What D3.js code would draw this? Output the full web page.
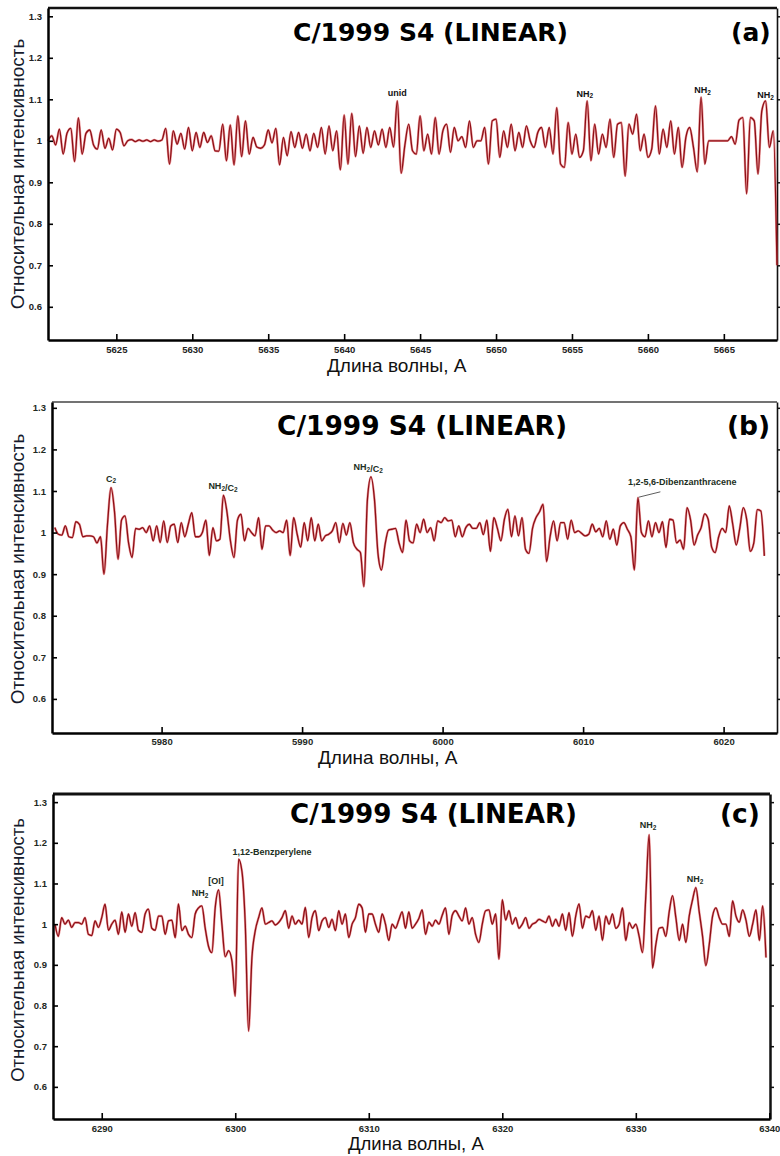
<!DOCTYPE html>
<html>
<head>
<meta charset="utf-8">
<script src="https://cdn.jsdelivr.net/npm/d3@7"></script>
<style>
  body { margin: 0; background: #fff; }
  svg { display: block; }
</style>
</head>
<body>
<div class="chart"></div>
<script>
var svgWidth = 780;
var svgHeight = 1156;

var titleText = "C/1999 S4 (LINEAR)";
var xLabelText = "Длина волны, А";
var yLabelText = "Относительная интенсивность";

// shared y axis
var yTicks = [0.6, 0.7, 0.8, 0.9, 1, 1.1, 1.2, 1.3];
var yTickLabels = ["0.6", "0.7", "0.8", "0.9", "1", "1.1", "1.2", "1.3"];

// ---- panel (a) ----
var xTicksA = [5625, 5630, 5635, 5640, 5645, 5650, 5655, 5660, 5665];
var waveStartA = 5620.5, waveStepA = 0.25;
var fluxA = [
  1.0,1.012,0.99,1.028,0.968,1.018,1.03,0.95,1.055,0.968,
  1.018,1.026,0.99,0.98,1.026,0.982,1.006,0.978,1.028,1.02,
  0.988,1.0,1.003,0.998,1.002,0.999,1.002,0.998,1.002,0.999,
  1.002,1.03,0.944,1.024,0.992,1.018,0.98,1.032,0.976,1.02,
  0.984,1.02,0.996,1.012,0.976,0.975,1.04,0.952,1.038,0.942,
  1.06,0.962,1.048,0.968,1.008,0.985,0.982,0.99,1.026,0.995,
  1.03,0.942,1.008,0.964,1.022,0.984,1.02,0.982,1.016,0.976,
  1.018,0.984,1.032,0.968,1.036,0.976,1.024,0.93,1.062,0.944,
  1.066,0.962,1.036,0.97,1.032,0.984,1.024,0.99,1.028,0.984,
  1.032,0.985,1.096,0.922,0.99,1.04,0.976,0.968,1.06,0.976,
  1.016,0.968,1.056,0.968,1.024,1.04,0.972,1.032,1.0,1.01,
  0.984,1.048,0.984,1.0,1.0,1.032,0.944,1.048,1.052,0.96,
  1.024,0.984,1.04,0.976,1.02,0.984,1.036,1.0,0.984,1.02,
  1.032,0.984,1.032,0.968,1.08,0.944,0.936,1.044,0.968,1.016,
  0.96,0.976,1.096,0.952,1.04,0.968,1.016,0.984,1.052,0.96,
  1.04,1.044,0.915,1.04,1.016,1.064,0.976,1.016,0.96,0.98,
  1.084,0.968,1.028,0.984,1.048,0.968,1.032,0.936,1.008,1.032,
  0.984,0.925,1.105,0.944,1.0,1.0,1.0,1.0,1.0,1.0,
  1.01,0.992,1.05,1.056,0.872,1.056,1.048,0.92,1.072,1.096,
  0.984,1.024,0.70
];
var labelTextA = ["unid", "NH_2", "NH_2", "NH_2"];
var labelWaveA = [5643.5, 5655.85, 5663.6, 5667.75];
var labelLevelA = [1.108, 1.106, 1.115, 1.103];

// ---- panel (b) ----
var xTicksB = [5980, 5990, 6000, 6010, 6020];
var waveStartB = 5972.4, waveStepB = 0.25;
var fluxB = [
  1.012,0.996,0.994,1.016,0.99,0.988,1.026,1.02,0.99,0.992,
  0.992,0.99,0.975,0.99,0.90,1.02,1.108,1.05,0.936,1.03,
  1.04,0.975,0.94,1.01,1.008,1.012,1.0,1.016,0.98,1.016,
  0.976,1.028,0.976,1.016,1.02,0.976,1.024,0.99,1.02,1.048,
  0.99,0.99,1.0,1.03,0.945,1.012,0.98,0.984,1.09,1.05,
  0.98,0.94,1.03,1.044,0.98,1.01,1.0,0.992,1.036,0.96,
  1.016,1.016,1.006,1.0,1.004,1.0,1.03,0.945,1.036,0.996,
  0.965,1.024,0.98,1.036,0.98,1.02,0.98,0.992,0.996,1.004,
  1.024,0.976,1.022,0.994,1.024,0.976,0.96,0.952,0.87,1.08,
  1.134,1.08,0.95,0.91,0.97,1.006,1.008,1.01,0.975,0.952,
  1.03,0.98,0.975,1.02,1.0,1.032,1.0,1.012,0.98,1.028,
  1.024,1.036,1.028,1.03,0.99,1.016,0.99,1.012,1.02,1.01,
  1.01,1.024,0.995,1.03,0.955,1.036,1.01,0.98,1.032,1.056,
  0.99,1.04,0.992,1.036,0.96,0.95,1.01,1.036,1.05,1.068,
  0.93,0.99,1.028,0.98,1.024,1.024,0.984,1.03,1.0,1.004,
  0.998,0.992,0.996,1.02,1.002,1.01,0.99,1.028,0.984,1.008,
  0.97,1.016,1.024,1.008,0.99,0.91,1.084,1.0,0.99,1.028,
  0.99,1.024,1.0,1.026,0.964,1.032,1.03,0.975,0.982,0.96,
  1.06,1.03,0.97,0.994,1.012,1.045,1.032,0.965,0.952,0.99,
  1.01,1.0,1.064,1.02,0.97,1.01,1.06,1.03,0.955,0.975,
  1.055,1.052,0.944
];
var labelTextB = ["C_2", "NH_2/C_2", "NH_2/C_2", "1,2-5,6-Dibenzanthracene"];
var labelWaveB = [5976.4, 5984.37, 5994.7, 6017.05];
var labelLevelB = [1.122, 1.104, 1.15, 1.114];
var leaderWaveB = [6013.95, 6015.5];
var leaderLevelB = [1.085, 1.098];

// ---- panel (c) ----
var xTicksC = [6290, 6300, 6310, 6320, 6330, 6340];
var waveStartC = 6286.5, waveStepC = 0.25;
var fluxC = [
  1.0,0.97,1.016,1.0,1.01,0.992,1.004,1.004,1.0,1.016,
  0.975,0.972,1.008,0.992,1.016,1.049,0.985,1.0,1.01,0.975,
  1.03,0.98,1.025,0.995,1.028,0.985,0.98,1.025,1.037,0.99,
  0.985,1.02,1.02,0.975,1.008,1.01,0.967,1.05,0.984,0.995,
  0.975,0.967,1.025,1.04,1.045,0.99,0.945,0.93,1.041,1.084,
  1.0,0.92,0.935,0.91,0.823,1.16,1.13,1.0,0.737,0.918,
  0.984,1.016,1.04,1.0,1.004,1.008,0.998,1.004,1.016,1.033,
  0.99,1.02,1.0,1.01,1.0,1.041,0.967,1.016,1.033,0.984,
  1.008,1.016,0.992,1.012,0.984,1.033,1.0,1.025,0.967,1.0,
  1.016,1.049,1.04,0.98,1.025,1.025,1.0,0.98,1.025,1.0,
  0.96,1.0,0.99,1.01,1.03,0.99,1.03,0.99,1.0,1.014,
  1.035,0.975,1.005,0.995,1.01,1.0,1.022,1.04,0.975,1.022,
  1.033,1.02,1.008,1.04,1.0,1.016,0.975,0.955,1.0,1.033,
  1.035,1.0,1.025,0.914,1.06,1.01,1.033,1.0,1.016,0.99,
  1.0,1.016,0.99,1.0,1.004,1.012,1.008,1.004,1.02,0.995,
  1.012,0.995,1.025,0.985,1.028,0.97,1.02,1.05,0.99,1.02,
  1.016,1.033,0.985,1.02,0.96,1.02,1.0,1.025,0.99,1.0,
  1.04,0.96,1.004,0.99,1.0,0.97,0.93,1.07,1.22,0.892,
  0.95,0.99,0.992,0.97,1.03,1.07,1.016,0.96,1.0,0.955,
  1.02,1.06,1.09,1.03,0.97,0.898,0.95,1.02,1.04,1.016,
  1.0,1.0,0.97,1.057,1.02,1.005,1.035,1.01,0.97,1.0,
  1.035,0.96,1.045,0.918
];
var labelTextC = ["NH_2", "[OI]", "1,12-Benzperylene", "NH_2", "NH_2"];
var labelWaveC = [6297.36, 6298.56, 6302.75, 6330.91, 6334.43];
var labelLevelC = [1.069, 1.098, 1.17, 1.236, 1.103];

var svg = d3.select(".chart")
  .append("svg")
  .attr("width", svgWidth)
  .attr("height", svgHeight);

function toPoints(start, step, flux) {
  return flux.map((v, i) => ({ w: start + i * step, v: v }));
}

// label text: "_2" becomes a subscript 2
function writeLabel(sel, str) {
  var parts = str.split(/_(\d)/);
  parts.forEach(function(p, i) {
    if (p === "") return;
    if (i % 2 === 1) {
      sel.append("tspan").attr("font-size", "0.72em").attr("dy", "1.5").text(p);
      sel.append("tspan").attr("dy", "-1.5").text("");
    } else {
      sel.append("tspan").text(p);
    }
  });
}

function drawPanel(p) {
  var g = svg.append("g");

  var x = d3.scaleLinear().domain(p.xDomain).range([p.left, p.right]);
  var y = d3.scaleLinear().domain(p.yDomain).range([p.bottom, p.top]);

  // frame top
  g.append("line")
    .attr("x1", p.left).attr("x2", p.right)
    .attr("y1", p.top).attr("y2", p.top)
    .attr("stroke", p.topColor).attr("stroke-width", p.topWidth);

  // right axis (ticks outward, no labels)
  var rightAxis = g.append("g")
    .attr("transform", `translate(${p.right},0)`)
    .call(d3.axisRight(y).tickValues(yTicks).tickSize(4).tickSizeOuter(0).tickFormat(""));
  rightAxis.select(".domain").attr("stroke", "#111").attr("stroke-width", p.rightWidth);
  rightAxis.selectAll(".tick line").attr("stroke", "#111").attr("stroke-width", 1.5);

  // spectrum
  var line = d3.line().curve(d3.curveMonotoneX).x(d => x(d.w)).y(d => y(d.v));
  g.append("path")
    .datum(p.points)
    .attr("fill", "none")
    .attr("stroke", "#e0484c")
    .attr("stroke-opacity", 0.55)
    .attr("stroke-width", 2.4)
    .attr("stroke-linejoin", "round")
    .attr("d", line);
  g.append("path")
    .datum(p.points)
    .attr("fill", "none")
    .attr("stroke", "#8c0f16")
    .attr("stroke-width", 1.3)
    .attr("stroke-linejoin", "round")
    .attr("d", line);

  // left axis
  var leftAxis = g.append("g")
    .attr("transform", `translate(${p.left},0)`)
    .call(d3.axisLeft(y).tickValues(yTicks)
      .tickFormat(d => yTickLabels[yTicks.indexOf(d)])
      .tickSize(-5).tickSizeOuter(0).tickPadding(6));
  leftAxis.select(".domain").attr("stroke", "#000").attr("stroke-width", 2.5);
  leftAxis.selectAll(".tick line").attr("stroke", "#000").attr("stroke-width", 1.6);
  leftAxis.selectAll("text")
    .attr("font-family", "Liberation Sans, Arial, sans-serif")
    .attr("font-weight", "bold").attr("font-size", 9.5).attr("fill", p.tickColor);

  // bottom axis
  var bottomAxis = g.append("g")
    .attr("transform", `translate(0,${p.bottom})`)
    .call(d3.axisBottom(x).tickValues(p.xTicks).tickFormat(d3.format("d"))
      .tickSize(-6).tickSizeOuter(0).tickPadding(p.xPad));
  bottomAxis.select(".domain").attr("stroke", "#000").attr("stroke-width", 2.5);
  bottomAxis.selectAll(".tick line").attr("stroke", "#000").attr("stroke-width", 1.6);
  bottomAxis.selectAll("text")
    .attr("font-family", "Liberation Sans, Arial, sans-serif")
    .attr("font-weight", "bold").attr("font-size", 9.5).attr("fill", p.tickColor);

  // title and panel letter
  g.append("text")
    .attr("x", p.titleX).attr("y", p.titleY)
    .attr("font-family", "DejaVu Sans, sans-serif")
    .attr("font-weight", "bold").attr("font-size", p.titleSize)
    .attr("textLength", p.titleLen).attr("lengthAdjust", "spacingAndGlyphs")
    .attr("fill", "#000")
    .text(titleText);
  g.append("text")
    .attr("x", p.letterX).attr("y", p.titleY)
    .attr("font-family", "DejaVu Sans, sans-serif")
    .attr("font-weight", "bold").attr("font-size", p.titleSize)
    .attr("fill", "#000")
    .text(p.letter);

  // line identifications
  p.labels.forEach(function(txt, i) {
    var t = g.append("text")
      .attr("x", x(p.labelWave[i])).attr("y", y(p.labelLevel[i]))
      .attr("text-anchor", "middle")
      .attr("font-family", "Liberation Sans, Arial, sans-serif")
      .attr("font-weight", "bold").attr("font-size", p.labelSize)
      .attr("fill", p.labelColor);
    writeLabel(t, txt);
  });
  if (p.leaderWave) {
    g.append("line")
      .attr("x1", x(p.leaderWave[0])).attr("y1", y(p.leaderLevel[0]))
      .attr("x2", x(p.leaderWave[1])).attr("y2", y(p.leaderLevel[1]))
      .attr("stroke", "#333").attr("stroke-width", 0.8);
  }

  // axis titles
  g.append("text")
    .attr("transform", `translate(24, ${p.yLabelY}) rotate(-90)`)
    .attr("text-anchor", "middle")
    .attr("font-family", "Liberation Sans, Arial, sans-serif")
    .attr("font-size", p.axisFont)
    .attr("fill", "#151a2c")
    .text(yLabelText);
  g.append("text")
    .attr("x", p.xLabelX).attr("y", p.xLabelY)
    .attr("font-family", "Liberation Sans, Arial, sans-serif")
    .attr("font-size", p.axisFont)
    .attr("fill", "#111")
    .text(xLabelText);
}

drawPanel({
  left: 48, right: 777, top: 8, bottom: 340,
  xDomain: [5620.5, 5668.5], yDomain: [0.52, 1.32],
  xTicks: xTicksA, xPad: 6,
  points: toPoints(waveStartA, waveStepA, fluxA),
  topWidth: 2.5, topColor: "#111", rightWidth: 1.6, tickColor: "#222",
  titleX: 293, titleY: 41, titleSize: 25, titleLen: 275, letter: "(a)", letterX: 731,
  labels: labelTextA, labelWave: labelWaveA, labelLevel: labelLevelA,
  labelSize: 9, labelColor: "#111",
  yLabelY: 174, xLabelX: 327, xLabelY: 372, axisFont: 19
});

drawPanel({
  left: 52, right: 777, top: 402, bottom: 733,
  xDomain: [5972.2, 6023.8], yDomain: [0.518, 1.314],
  xTicks: xTicksB, xPad: 5,
  points: toPoints(waveStartB, waveStepB, fluxB),
  topWidth: 1.6, topColor: "#444", rightWidth: 1.6, tickColor: "#1f2a1f",
  titleX: 277, titleY: 435, titleSize: 26.5, titleLen: 290, letter: "(b)", letterX: 727,
  labels: labelTextB, labelWave: labelWaveB, labelLevel: labelLevelB,
  labelSize: 9, labelColor: "#1c2e22",
  leaderWave: leaderWaveB, leaderLevel: leaderLevelB,
  yLabelY: 569, xLabelX: 318, xLabelY: 764, axisFont: 19
});

drawPanel({
  left: 53, right: 770, top: 794, bottom: 1119,
  xDomain: [6286.35, 6340.05], yDomain: [0.521, 1.32],
  xTicks: xTicksC, xPad: 6,
  points: toPoints(waveStartC, waveStepC, fluxC),
  topWidth: 3, topColor: "#111", rightWidth: 2.5, tickColor: "#1f2a1f",
  titleX: 290, titleY: 823, titleSize: 26.5, titleLen: 287, letter: "(c)", letterX: 720,
  labels: labelTextC, labelWave: labelWaveC, labelLevel: labelLevelC,
  labelSize: 9, labelColor: "#1c2e22",
  yLabelY: 950, xLabelX: 348, xLabelY: 1150, axisFont: 18.5
});
</script>
</body>
</html>
